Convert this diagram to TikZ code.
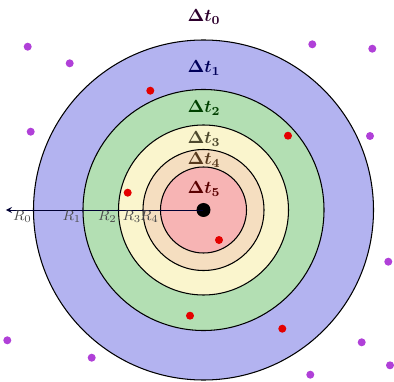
\documentclass[tikz,border=0pt]{standalone}
\usepackage{amsmath}
\usepackage{amssymb}
\usepackage{tikz}
\usetikzlibrary{positioning,calc}

\definecolor{ringA}{RGB}{179,179,240}
\definecolor{ringB}{RGB}{179,223,179}
\definecolor{ringC}{RGB}{250,245,205}
\definecolor{ringD}{RGB}{245,222,192}
\definecolor{ringE}{RGB}{247,180,180}
\definecolor{farpt}{RGB}{176,64,216}
\definecolor{nearpt}{RGB}{228,0,0}

\begin{document}
\begin{tikzpicture}[
    >=stealth,
    ring/.style={circle, draw, line width=0.6pt, inner sep=0pt},
    dt/.style={font=\boldmath, inner sep=1pt},
    rlab/.style={font=\footnotesize, text=black!70, inner sep=0.5pt},
    fardot/.style={circle, fill=farpt, minimum size=1.6mm, inner sep=0pt},
    neardot/.style={circle, fill=nearpt, minimum size=1.6mm, inner sep=0pt},
]
\useasboundingbox (-4.07,-3.42) rectangle (3.81,4.2);

% --- nested zones ---
\node[ring, fill=ringA, minimum size=6.80cm] (c0) at (0,0) {};
\node[ring, fill=ringB, minimum size=4.82cm] (c1) at (0,0) {};
\node[ring, fill=ringC, minimum size=3.40cm] (c2) at (0,0) {};
\node[ring, fill=ringD, minimum size=2.42cm] (c3) at (0,0) {};
\node[ring, fill=ringE, minimum size=1.72cm] (c4) at (0,0) {};

% --- zone labels ---
\node[dt, text=violet!35!black] (t0) at (0.01,3.86) {$\Delta t_0$};
\node[dt, text=blue!35!black]   (t1) at (0.01,2.84) {$\Delta t_1$};
\node[dt, text=green!25!black]  (t2) at (0.01,2.04) {$\Delta t_2$};
\node[dt, text=olive!40!black]  (t3) at (0.01,1.42) {$\Delta t_3$};
\node[dt, text=brown!45!black]  (t4) at (0.01,1.00) {$\Delta t_4$};
\node[dt, text=red!35!black]    (t5) at (0.01,0.42) {$\Delta t_5$};

% --- centre and radius arrow ---
\node[circle, fill=black, minimum size=2.8mm, inner sep=0pt] (ctr) at (0,0) {};
\coordinate (tip) at (-3.95,0);
\draw[->, black!80!blue, line width=0.5pt] (ctr.center) -- (tip);

% radii labels
\node[rlab, below left=0pt of c0.west] {$R_0$};
\node[rlab, below left=0pt of c1.west] {$R_1$};
\node[rlab, below left=0pt of c2.west] {$R_2$};
\node[rlab, below left=0pt of c3.west] {$R_3$};
\node[rlab, below left=0pt of c4.west] {$R_4$};

% --- nearby points ---
\node[neardot] (n1) at (-1.064,2.386) {};
\node[neardot] (n2) at (1.69,1.486) {};
\node[neardot] (n3) at (-1.516,0.346) {};
\node[neardot] (n4) at (0.31,-0.6) {};
\node[neardot] (n5) at (-0.27,-2.114) {};
\node[neardot] (n6) at (1.576,-2.374) {};

% --- far points ---
\node[fardot] (f1)  at (-3.516,3.266) {};
\node[fardot] (f2)  at (-2.676,2.934) {};
\node[fardot] (f3)  at (-3.456,1.566) {};
\node[fardot] (f4)  at (2.176,3.314) {};
\node[fardot] (f5)  at (3.376,3.226) {};
\node[fardot] (f6)  at (3.33,1.48) {};
\node[fardot] (f7)  at (3.696,-1.034) {};
\node[fardot] (f8)  at (-3.924,-2.606) {};
\node[fardot] (f9)  at (-2.236,-2.954) {};
\node[fardot] (f10) at (3.164,-2.646) {};
\node[fardot] (f11) at (2.136,-3.294) {};
\node[fardot] (f12) at (3.73,-3.106) {};

\end{tikzpicture}
\end{document}
